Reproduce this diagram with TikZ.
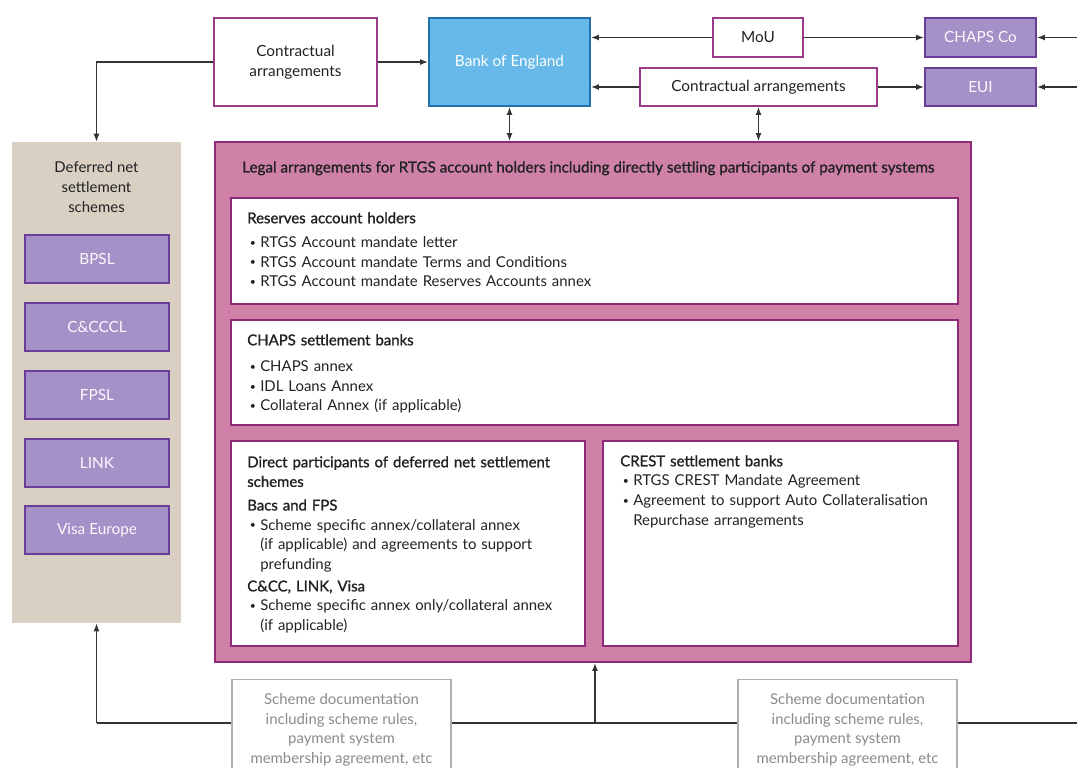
\documentclass[tikz,border=0pt]{standalone}
\usepackage{fontspec}
\setmainfont{Lato}
\newfontfamily\medfont[FakeBold=1.2]{Lato}
\usetikzlibrary{arrows.meta}
\definecolor{cabord}{HTML}{9A3A8A}
\definecolor{boefill}{HTML}{66B9E8}
\definecolor{boebord}{HTML}{2470AC}
\definecolor{purpfill}{HTML}{A690C8}
\definecolor{purpbord}{HTML}{6A3D98}
\definecolor{pinkfill}{HTML}{D081A8}
\definecolor{pinkbord}{HTML}{8E2A78}
\definecolor{beige}{HTML}{D9CFC3}
\definecolor{linec}{HTML}{333333}
\definecolor{greyb}{HTML}{B0B0B0}
\definecolor{greyt}{HTML}{8A8A8A}
\definecolor{txt}{HTML}{222222}
\hyphenpenalty=10000
\exhyphenpenalty=10000
\newcommand\bitem[1]{\par\noindent\makebox[9.75pt][l]{\hspace{2pt}\raisebox{0.15ex}{\scalebox{0.7}{\textbullet}}}\begin{tabular}[t]{@{}l@{}}#1\end{tabular}}
\begin{document}
\begin{tikzpicture}[x=0.75pt,y=-0.75pt,
  font=\fontsize{11.2}{14.7}\selectfont, text=txt,
  carr/.style={draw=cabord, line width=1.4pt, fill=white, inner sep=0pt, align=center, font=\fontsize{11.5}{14.7}\selectfont},
  boebox/.style={draw=boebord, line width=1.4pt, fill=boefill, text=white, inner sep=0pt, align=center, font=\fontsize{11.5}{14.7}\selectfont},
  purp/.style={draw=purpbord, line width=1.4pt, fill=purpfill, text=white!95!purpfill, inner sep=0pt, align=center, font=\fontsize{11.5}{14.7}\selectfont},
  wbox/.style={draw=pinkbord, line width=1.4pt, fill=white, inner sep=0pt},
  sdoc/.style={draw=greyb, line width=1pt, fill=white, text=greyt, inner sep=0pt, align=center},
  blk/.style={anchor=north west, inner sep=0pt, align=left},
  arr/.style={draw=linec, line width=1.1pt, -{Latex[length=6pt,width=4.5pt]}},
  darr/.style={draw=linec, line width=1.1pt, {Latex[length=6pt,width=4.5pt]}-{Latex[length=6pt,width=4.5pt]}},
  plain/.style={draw=linec, line width=1.1pt}]
\useasboundingbox (0,0) rectangle (1077,767);
\clip (0,0) rectangle (1077,767);
\fill[white] (0,0) rectangle (1077,767);

% top row
\node[carr, minimum width={163*0.75pt}, minimum height={88*0.75pt}] (ca1) at (295.5,62) {Contractual\\arrangements};
\node[boebox, minimum width={161*0.75pt}, minimum height={88*0.75pt}] (boe) at (509.5,62) {Bank of England};
\node[carr, minimum width={90*0.75pt}, minimum height={39*0.75pt}] (mou) at (758,37.5) {MoU};
\node[carr, minimum width={237*0.75pt}, minimum height={38*0.75pt}] (ca2) at (758.5,87) {Contractual arrangements};
\node[purp, minimum width={111*0.75pt}, minimum height={39*0.75pt}] (chaps) at (980.5,37.5) {CHAPS Co};
\node[purp, minimum width={111*0.75pt}, minimum height={38*0.75pt}] (eui) at (980.5,87) {EUI};
\coordinate (r1) at (1077,37.5);
\coordinate (r2) at (1077,87);

% deferred net settlement panel
\node[fill=beige, minimum width={169*0.75pt}, minimum height={481*0.75pt}, inner sep=0pt] (dns) at (96.5,382.5) {};
\node[align=center, inner sep=0pt] (dnst) at (96.5,187) {Deferred net\\settlement\\schemes};
\node[purp, minimum width={144*0.75pt}, minimum height={48*0.75pt}] (bpsl) at (97,259) {BPSL};
\node[purp, minimum width={144*0.75pt}, minimum height={48*0.75pt}] (cccl) at (97,327) {C\&CCCL};
\node[purp, minimum width={144*0.75pt}, minimum height={48*0.75pt}] (fpsl) at (97,395) {FPSL};
\node[purp, minimum width={144*0.75pt}, minimum height={48*0.75pt}] (link) at (97,463) {LINK};
\node[purp, minimum width={144*0.75pt}, minimum height={48*0.75pt}] (visa) at (97,530) {Visa Europe};

% main pink box
\node[draw=pinkbord, line width=1.4pt, fill=pinkfill, minimum width={756*0.75pt}, minimum height={520*0.75pt}, inner sep=0pt] (pink) at (593,402) {};
\node[blk, font=\fontsize{11.4}{14.7}\selectfont] (pinkt) at (242,161) {\medfont Legal arrangements for RTGS account holders including directly settling participants of payment systems};

\node[wbox, minimum width={727*0.75pt}, minimum height={106*0.75pt}] (res) at (594.5,251) {};
\node[blk, text width={690*0.75pt}] (rest) at (247,212) {{\medfont Reserves account holders}\\[3.5pt]
\bitem{RTGS Account mandate letter}
\bitem{RTGS Account mandate Terms and Conditions}
\bitem{RTGS Account mandate Reserves Accounts annex}};

\node[wbox, minimum width={727*0.75pt}, minimum height={105*0.75pt}] (chb) at (594.5,372.5) {};
\node[blk, text width={690*0.75pt}] (chbt) at (247,334) {{\medfont CHAPS settlement banks}\\[5pt]
\bitem{CHAPS annex}
\bitem{IDL Loans Annex}
\bitem{Collateral Annex (if applicable)}};

\node[wbox, minimum width={354*0.75pt}, minimum height={205*0.75pt}] (dp) at (408,543.5) {};
\node[blk, text width={325*0.75pt}] (dpt) at (247,456) {{\medfont Direct participants of deferred net settlement}\\{\medfont schemes}\\[3pt]
{\medfont Bacs and FPS}
\bitem{Scheme specific annex/collateral annex\\(if applicable) and agreements to support\\prefunding}\par\vspace{3pt}
\noindent{\medfont C\&CC, LINK, Visa}
\bitem{Scheme specific annex only/collateral annex\\(if applicable)}};

\node[wbox, minimum width={355*0.75pt}, minimum height={205*0.75pt}] (crest) at (780.5,543.5) {};
\node[blk, text width={320*0.75pt}] (crestt) at (620,455) {{\medfont CREST settlement banks}
\bitem{RTGS CREST Mandate Agreement}
\bitem{Agreement to support Auto Collateralisation\\Repurchase arrangements}};

% connectors top
\draw[arr] (ca1.east) -- (boe.west);
\draw[arr] (ca1.west) -| (dns.north);
\draw[arr] (mou.west) -- (mou.west -| boe.east);
\draw[arr] (mou.east) -- (chaps.west);
\draw[arr] (ca2.west) -- (ca2.west -| boe.east);
\draw[arr] (ca2.east) -- (eui.west);
\draw[arr] (r1) -- (chaps.east);
\draw[arr] (r2) -- (eui.east);
\draw[darr] (boe.south) -- (boe.south |- pink.north);
\draw[darr] (ca2.south) -- (ca2.south |- pink.north);

% bottom
\coordinate (bl) at (96.5,723);
\coordinate (br) at (1077,723);
\coordinate (bm) at (595,723);
\draw[plain] (bl) -- (br);
\draw[arr] (bl) -- (dns.south);
\draw[arr] (bm) -- (bm |- pink.south);
\node[sdoc, anchor=north, minimum width={219*0.75pt}, minimum height={100*0.75pt}] (sd1) at (341.5,679) {Scheme documentation\\including scheme rules,\\payment system\\membership agreement, etc};
\node[sdoc, anchor=north, minimum width={219*0.75pt}, minimum height={100*0.75pt}] (sd2) at (847.5,679) {Scheme documentation\\including scheme rules,\\payment system\\membership agreement, etc};
\end{tikzpicture}
\end{document}
